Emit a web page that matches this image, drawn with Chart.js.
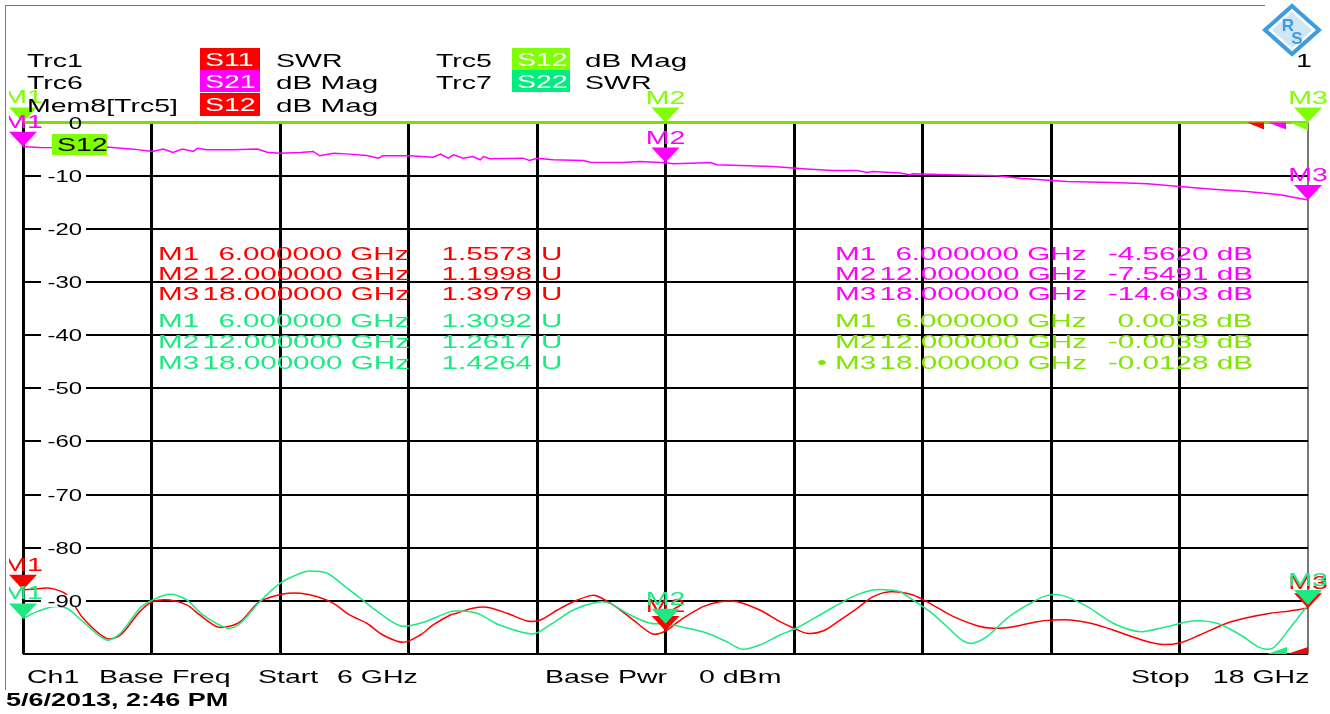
<!DOCTYPE html>
<html>
<head>
<meta charset="utf-8">
<script src="https://cdn.jsdelivr.net/npm/chart.js@4.4.1/dist/chart.umd.min.js"></script>
<style>
  body { margin: 0; background: #fff; overflow: hidden; }
  #wrap { position: relative; width: 1330px; height: 714px; }
  #chart { position: absolute; left: 0; top: 0; }
  .t { position: absolute; white-space: pre; font-family: "Liberation Sans", Arial, sans-serif;
       font-size: 19px; line-height: 19px; transform: scaleX(1.5); transform-origin: 0 50%; color: #000; }
  .box { position: absolute; }
  .line { position: absolute; background: #777; }
</style>
</head>
<body>
<div id="wrap">
  <canvas id="chart" width="1330" height="714"></canvas>
  <div id="texts"></div>
</div>
<script>
const freqTicks = [6, 7.2, 8.4, 9.6, 10.8, 12, 13.2, 14.4, 15.6, 16.8, 18];
const dbTicks = [0, -10, -20, -30, -40, -50, -60, -70, -80, -90, -100];

// Trc1 S11 SWR
const s11Freq = [6.00, 6.09, 6.25, 6.41, 6.56, 6.78, 6.91, 7.09, 7.21, 7.37, 7.53, 7.65, 7.81, 7.91, 8.03, 8.21, 8.43, 8.59, 8.75, 8.90,
  9.05, 9.21, 9.36, 9.55, 9.71, 9.83, 9.99, 10.05, 10.20, 10.33, 10.52, 10.71, 10.83, 10.99, 11.14, 11.30, 11.36, 11.51, 11.70, 11.88,
  12.00, 12.14, 12.35, 12.51, 12.67, 12.88, 13.07, 13.19, 13.32, 13.47, 13.63, 13.79, 13.94, 14.10, 14.31, 14.47, 14.69, 14.91, 15.06, 15.25,
  15.47, 15.62, 15.78, 15.97, 16.18, 16.40, 16.62, 16.81, 16.99, 17.24, 17.43, 17.65, 17.83, 18.00];
const s11Swr = [1.557, 1.562, 1.571, 1.513, 1.313, 1.136, 1.165, 1.368, 1.454, 1.469, 1.426, 1.339, 1.237, 1.237, 1.281, 1.454, 1.521, 1.527, 1.498, 1.440,
  1.339, 1.267, 1.165, 1.102, 1.165, 1.252, 1.339, 1.354, 1.397, 1.406, 1.354, 1.287, 1.295, 1.382, 1.454, 1.507, 1.504, 1.426, 1.295, 1.174,
  1.200, 1.295, 1.411, 1.454, 1.454, 1.382, 1.281, 1.228, 1.180, 1.200, 1.295, 1.397, 1.498, 1.540, 1.513, 1.440, 1.324, 1.246, 1.223, 1.237,
  1.281, 1.295, 1.295, 1.267, 1.209, 1.136, 1.084, 1.098, 1.165, 1.267, 1.315, 1.354, 1.374, 1.398];

// Trc7 S22 SWR
const s22Freq = [6.00, 6.13, 6.28, 6.41, 6.56, 6.78, 6.91, 7.09, 7.21, 7.37, 7.53, 7.68, 7.91, 8.03, 8.21, 8.40, 8.59, 8.68, 8.84, 8.99,
  9.15, 9.27, 9.52, 9.71, 9.99, 10.05, 10.24, 10.45, 10.76, 10.92, 11.14, 11.36, 11.48, 11.67, 11.86, 12.00, 12.14, 12.39, 12.57, 12.72,
  12.88, 13.07, 13.23, 13.47, 13.75, 13.94, 14.10, 14.19, 14.31, 14.47, 14.63, 14.78, 14.87, 15.00, 15.19, 15.38, 15.56, 15.71, 15.94, 16.18,
  16.43, 16.68, 16.93, 17.15, 17.37, 17.55, 17.67, 17.83, 18.00];
const s22Swr = [1.309, 1.368, 1.411, 1.397, 1.281, 1.122, 1.180, 1.397, 1.469, 1.519, 1.469, 1.339, 1.223, 1.267, 1.454, 1.614, 1.701, 1.721, 1.701, 1.599,
  1.484, 1.397, 1.246, 1.267, 1.368, 1.374, 1.354, 1.252, 1.174, 1.252, 1.382, 1.449, 1.440, 1.339, 1.267, 1.262, 1.237, 1.180, 1.107, 1.041,
  1.078, 1.165, 1.228, 1.354, 1.498, 1.556, 1.556, 1.541, 1.469, 1.368, 1.237, 1.113, 1.093, 1.150, 1.310, 1.426, 1.507, 1.507, 1.411, 1.267,
  1.194, 1.237, 1.287, 1.267, 1.165, 1.055, 1.050, 1.223, 1.426];

// Trc6 S21 dB Mag
const s21Freq = [6.00, 6.16, 6.40, 6.60, 6.78, 7.03, 7.21, 7.31, 7.40, 7.49, 7.59, 7.63, 7.72, 7.96, 8.19, 8.28, 8.40, 8.59, 8.71, 8.77,
  8.90, 9.05, 9.21, 9.32, 9.36, 9.61, 9.83, 9.90, 9.97, 10.02, 10.11, 10.20, 10.27, 10.30, 10.36, 10.67, 10.73, 10.80, 10.95, 11.23,
  11.30, 11.60, 11.76, 12.00, 12.07, 12.23, 12.42, 12.48, 12.70, 13.00, 13.19, 13.32, 13.56, 13.79, 13.88, 13.94, 14.10, 14.19, 14.28, 14.31,
  14.63, 15.10, 15.31, 15.61, 15.75, 16.18, 16.50, 16.80, 17.11, 17.43, 17.74, 18.00];
const s21Db = [-4.56, -4.70, -4.75, -4.85, -4.60, -5.01, -5.45, -5.00, -5.64, -5.00, -5.45, -4.83, -5.14, -5.14, -5.00, -5.58, -5.77, -5.64, -5.45, -6.27,
  -5.77, -5.95, -6.21, -6.71, -6.27, -6.27, -6.52, -5.95, -6.71, -6.08, -6.71, -6.40, -7.02, -6.40, -6.83, -6.71, -7.15, -6.71, -7.02, -7.15,
  -7.46, -7.53, -7.34, -7.55, -7.77, -7.65, -7.53, -7.96, -8.09, -8.28, -8.58, -8.77, -9.03, -9.03, -9.41, -9.22, -9.41, -9.52, -9.84, -9.66,
  -9.84, -10.03, -10.47, -10.92, -11.10, -11.29, -11.54, -12.05, -12.54, -12.99, -13.61, -14.60];

// Trc5 S12 dB Mag and its memory trace
const s12Freq = [6, 12, 18];
const s12Db = [0.0058, -0.0039, -0.0128];
const mem8Db = [0.0058, -0.0039, -0.0128];

// markers M1..M3
const markerFreq = [6, 12, 18];
const s11Mk = [1.5573, 1.1998, 1.3979];
const s22Mk = [1.3092, 1.2617, 1.4264];
const s21Mk = [-4.5620, -7.5491, -14.603];
const s12Mk = [0.0058, -0.0039, -0.0128];

const RED = "#ff0000", MAG = "#ff00ff", LIME = "#80ff00", LIMETXT = "#7fe600", GREEN = "#1de982", GREENBOX = "#00ee80";
const SX = 1.5;
const FONT = "'Liberation Sans', Arial, sans-serif";

const texts = document.getElementById("texts");

function addText(str, x, cy, opt = {}) {
  const d = document.createElement("div");
  const size = opt.size || 19;
  d.className = "t";
  d.style.fontSize = size + "px";
  d.style.lineHeight = size + "px";
  d.style.top = (cy - size * 0.49) + "px";
  if (opt.right) {
    d.style.right = (1330 - x) + "px";
    d.style.transformOrigin = "100% 50%";
  } else {
    d.style.left = x + "px";
  }
  if (opt.sx) d.style.transform = "scaleX(" + opt.sx + ")";
  if (opt.color) d.style.color = opt.color;
  if (opt.bold) d.style.fontWeight = "bold";
  d.textContent = str;
  texts.appendChild(d);
}

function addBox(str, x, y, w, h, bg, fg) {
  const b = document.createElement("div");
  b.className = "box";
  b.style.cssText = `left:${x}px;top:${y}px;width:${w}px;height:${h}px;background:${bg}`;
  texts.appendChild(b);
  addText(str, x + 5, y + h / 2, { color: fg });
}

function addLine(x, y, w, h) {
  const l = document.createElement("div");
  l.className = "line";
  l.style.cssText = `left:${x}px;top:${y}px;width:${w}px;height:${h}px`;
  texts.appendChild(l);
}

// frame
addLine(5, 5, 1260, 1);
addLine(5, 5, 1, 685);

// header
addText("Trc1", 27, 60);
addBox("S11", 200, 48, 60, 22, RED, "#fff");
addText("SWR", 276, 60);
addText("Trc5", 436, 60);
addBox("S12", 512, 48, 58, 22, LIME, "#fff");
addText("dB Mag", 585, 60, { sx: 1.56 });
addText("Trc6", 27, 82);
addBox("S21", 200, 70, 60, 22, MAG, "#fff");
addText("dB Mag", 276, 82, { sx: 1.56 });
addText("Trc7", 436, 82);
addBox("S22", 512, 70, 58, 22, GREENBOX, "#fff");
addText("SWR", 585, 82);
addText("Mem8[Trc5]", 27, 105);
addBox("S12", 200, 93, 60, 23, RED, "#fff");
addText("dB Mag", 276, 105, { sx: 1.56 });
addText("1", 1296, 60);

// trace label inside the diagram
addBox("S12", 52, 134, 55, 21, LIME, "#000");

// footer
addText("Ch1", 27, 676);
addText("Base Freq", 99, 676);
addText("Start", 258, 676);
addText("6 GHz", 337, 676);
addText("Base Pwr", 545, 676);
addText("0 dBm", 699, 676);
addText("Stop", 1131, 676);
addText("18 GHz", 1309, 676, { right: true });
addText("5/6/2013, 2:46 PM", 6, 700, { size: 18, bold: true });

// marker readouts
function fmtVal(v) {
  return Math.abs(v) >= 1 ? v.toPrecision(5) : v.toFixed(4);
}
const readouts = [
  { vals: s11Mk, color: RED, rows: [253, 273, 293.5], left: true, unit: "U" },
  { vals: s22Mk, color: GREEN, rows: [320, 341.5, 362], left: true, unit: "U" },
  { vals: s21Mk, color: MAG, rows: [253, 273, 293.5], left: false, unit: "dB" },
  { vals: s12Mk, color: LIMETXT, rows: [320, 341.5, 362], left: false, unit: "dB" }
];
const RSX = 1.56;
readouts.forEach(r => {
  r.vals.forEach((v, i) => {
    const cy = r.rows[i];
    const f = markerFreq[i].toFixed(6) + " GHz";
    if (r.left) {
      addText("M" + (i + 1), 158, cy, { color: r.color, sx: RSX });
      addText(f, 410, cy, { color: r.color, right: true, sx: RSX });
      addText(fmtVal(v), 532, cy, { color: r.color, right: true, sx: RSX });
      addText(r.unit, 541, cy, { color: r.color, sx: RSX });
    } else {
      addText("M" + (i + 1), 835, cy, { color: r.color, sx: RSX });
      addText(f, 1087, cy, { color: r.color, right: true, sx: RSX });
      addText(fmtVal(v) + " " + r.unit, 1253, cy, { color: r.color, right: true, sx: RSX });
    }
  });
});
addText("\u2022", 817, 362, { color: LIMETXT });

function stretchText(ctx, txt, x, y, sx, align, color, font) {
  ctx.save();
  ctx.translate(x, y);
  ctx.scale(sx, 1);
  ctx.font = font;
  ctx.textAlign = align;
  ctx.textBaseline = "alphabetic";
  ctx.fillStyle = color;
  ctx.fillText(txt, 0, 0);
  ctx.restore();
}

const markerSets = [
  { vals: s12Mk, axis: "y", color: LIME },
  { vals: s21Mk, axis: "y", color: MAG },
  { vals: s11Mk, axis: "y2", color: RED },
  { vals: s22Mk, axis: "y2", color: GREEN }
];

const overlay = {
  id: "overlay",
  afterDatasetsDraw(chart) {
    const { ctx, chartArea: a, scales } = chart;
    const x = scales.x, y = scales.y;

    // y tick labels inside the grid
    y.ticks.forEach(t => {
      if (t.value === -100) return;
      const py = y.getPixelForValue(t.value);
      if (t.value !== 0) {
        ctx.fillStyle = "#fff";
        ctx.fillRect(a.left + 18, py - 6, 45, 12);
      }
      stretchText(ctx, String(t.value), a.left + 59, py + 6, 1.45, "right", "#000", "16.5px " + FONT);
    });

    // reference wedges
    const R = a.right;
    const wedge = (pts, color) => {
      ctx.beginPath();
      ctx.moveTo(pts[0][0], pts[0][1]);
      pts.slice(1).forEach(p => ctx.lineTo(p[0], p[1]));
      ctx.closePath();
      ctx.fillStyle = color;
      ctx.fill();
    };
    wedge([[R - 61, a.top], [R - 44, a.top], [R - 44, a.top + 7]], RED);
    wedge([[R - 40, a.top], [R - 22, a.top], [R - 22, a.top + 7]], MAG);
    wedge([[R - 18, a.top], [R, a.top], [R, a.top + 8]], LIME);
    wedge([[R - 41, a.bottom], [R - 21, a.bottom], [R - 21, a.bottom - 7]], GREEN);
    wedge([[R - 21, a.bottom], [R, a.bottom], [R, a.bottom - 7]], RED);

    // markers
    ctx.save();
    ctx.beginPath();
    ctx.rect(9, 0, 1330, 714);
    ctx.clip();
    markerSets.forEach(m => {
      m.vals.forEach((v, i) => {
        const px = x.getPixelForValue(markerFreq[i]);
        const py = scales[m.axis].getPixelForValue(v);
        ctx.beginPath();
        ctx.moveTo(px - 14, py - 15);
        ctx.lineTo(px + 14, py - 15);
        ctx.lineTo(px, py);
        ctx.closePath();
        ctx.fillStyle = m.color;
        ctx.fill();
        stretchText(ctx, "M" + (i + 1), px, py - 19, SX, "center", m.color, "19px " + FONT);
      });
    });
    ctx.restore();

    // R&S logo
    ctx.save();
    const cx = 1292, cy = 30;
    ctx.strokeStyle = "#3d9be0";
    ctx.lineWidth = 4;
    ctx.beginPath();
    ctx.moveTo(cx, cy - 24); ctx.lineTo(cx + 27, cy); ctx.lineTo(cx, cy + 24); ctx.lineTo(cx - 27, cy); ctx.closePath();
    ctx.stroke();
    ctx.fillStyle = "#cfe6f7";
    ctx.beginPath();
    ctx.moveTo(cx, cy - 18); ctx.lineTo(cx + 20, cy); ctx.lineTo(cx, cy + 18); ctx.lineTo(cx - 20, cy); ctx.closePath();
    ctx.fill();
    ctx.fillStyle = "#3d9be0";
    ctx.font = "bold 17px " + FONT;
    ctx.textAlign = "center";
    ctx.fillText("R", cx - 4, cy + 1);
    ctx.fillText("S", cx + 5, cy + 14);
    ctx.restore();
  }
};

const pts = (xs, ys) => xs.map((f, i) => ({ x: f, y: ys[i] }));

// lower "order" is drawn on top
new Chart(document.getElementById("chart"), {
  type: "line",
  data: {
    datasets: [
      { label: "Mem8 S12", data: pts(s12Freq, mem8Db), yAxisID: "y", borderColor: RED, borderWidth: 1, pointRadius: 0, order: 5 },
      { label: "Trc5 S12", data: pts(s12Freq, s12Db), yAxisID: "y", borderColor: "#7ae000", borderWidth: 3, pointRadius: 0, order: 0, clip: false },
      { label: "Trc6 S21", data: pts(s21Freq, s21Db), yAxisID: "y", borderColor: MAG, borderWidth: 1.5, pointRadius: 0, order: 3 },
      { label: "Trc1 S11", data: pts(s11Freq, s11Swr), yAxisID: "y2", borderColor: RED, borderWidth: 1.5, pointRadius: 0, tension: 0.3, order: 2 },
      { label: "Trc7 S22", data: pts(s22Freq, s22Swr), yAxisID: "y2", borderColor: GREEN, borderWidth: 1.5, pointRadius: 0, tension: 0.3, order: 1 }
    ]
  },
  options: {
    responsive: false,
    animation: false,
    events: [],
    layout: { padding: { left: 23, right: 22, top: 122.5, bottom: 60 } },
    plugins: { legend: { display: false }, tooltip: { enabled: false } },
    scales: {
      x: {
        type: "linear", min: 6, max: 18,
        afterBuildTicks: s => { s.ticks = freqTicks.map(v => ({ value: v })); },
        ticks: { display: false },
        border: { display: false },
        grid: {
          drawTicks: false,
          color: c => (c.index === freqTicks.length - 1 ? "#777" : "#000"),
          lineWidth: c => (c.index === freqTicks.length - 1 ? 2 : 3)
        }
      },
      y: {
        type: "linear", min: -100, max: 0,
        afterBuildTicks: s => { s.ticks = dbTicks.map(v => ({ value: v })); },
        ticks: { display: false },
        border: { display: false },
        grid: { drawTicks: false, color: "#000", lineWidth: 2 }
      },
      y2: { type: "linear", display: false, min: 1, max: 5.616 }
    }
  },
  plugins: [overlay]
});
</script>
</body>
</html>
